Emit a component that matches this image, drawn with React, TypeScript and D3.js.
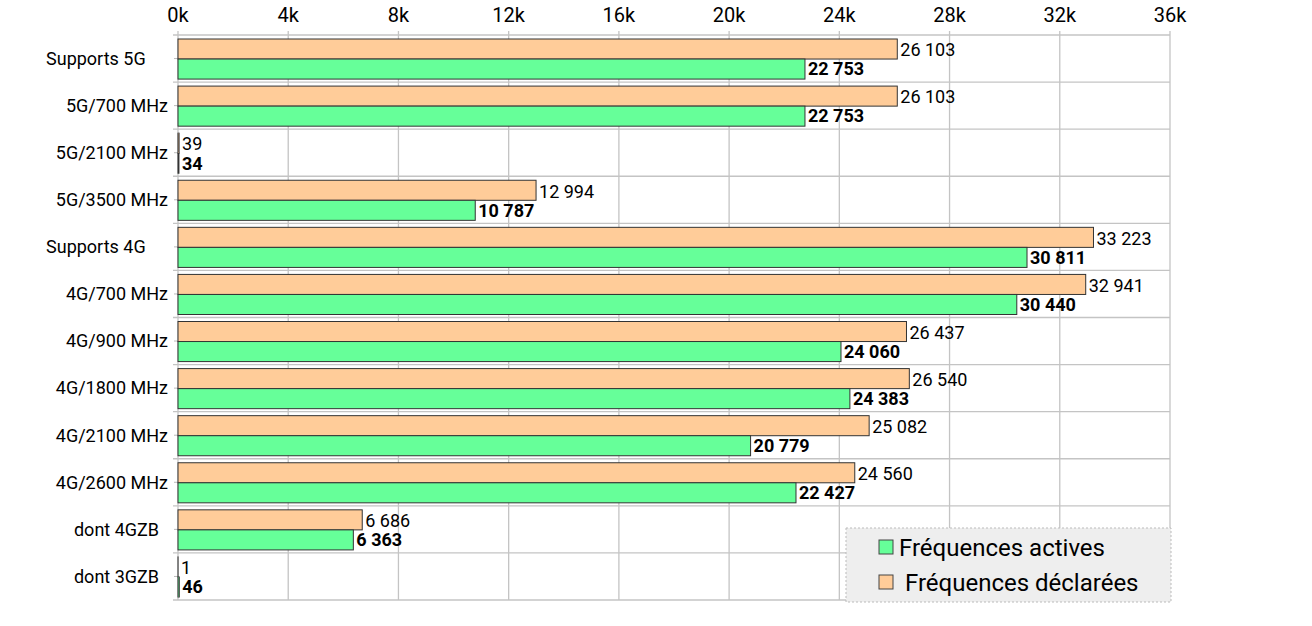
import { useEffect, useRef } from 'react'
import * as d3 from 'd3'

// categories top to bottom (trailing spaces kept as in the source labels)
const categories = [
  'Supports 5G\u00a0\u00a0\u00a0\u00a0\u00a0',
  '5G/700 MHz',
  '5G/2100 MHz',
  '5G/3500 MHz',
  'Supports 4G\u00a0\u00a0\u00a0\u00a0\u00a0',
  '4G/700 MHz',
  '4G/900 MHz',
  '4G/1800 MHz',
  '4G/2100 MHz',
  '4G/2600 MHz',
  'dont 4GZB\u00a0\u00a0',
  'dont 3GZB\u00a0\u00a0',
]

const declared = [26103, 26103, 39, 12994, 33223, 32941, 26437, 26540, 25082, 24560, 6686, 1]
const active = [22753, 22753, 34, 10787, 30811, 30440, 24060, 24383, 20779, 22427, 6363, 46]

const xTicks = [0, 4000, 8000, 12000, 16000, 20000, 24000, 28000, 32000, 36000]

const seriesNames = ['Fréquences actives', 'Fréquences déclarées']
const colors = { active: '#66ff99', declared: '#ffcc99' }

const W = 1312
const H = 626
const FONT = 'Roboto, "Noto Sans", sans-serif'

export default function App() {
  const svgRef = useRef<SVGSVGElement>(null)

  useEffect(() => {
    if (!svgRef.current) return
    const svg = d3.select(svgRef.current)
    svg.selectAll('*').remove()

    const left = 178
    const right = 1170
    const top = 35
    const bottom = 600

    const x = d3.scaleLinear().domain([0, 36000]).range([left, right])
    const y = d3.scaleBand<number>()
      .domain(d3.range(categories.length))
      .range([top, bottom])
      .paddingInner(0)
      .paddingOuter(0)
    const bw = y.bandwidth()
    const inner = d3.scaleBand<string>()
      .domain(['declared', 'active'])
      .range([4, bw - 3])
      .padding(0)
    const ib = inner.bandwidth()

    const fmt = d3.formatLocale({ decimal: ',', thousands: ' ', grouping: [3], currency: ['', '€'] }).format(',d')

    const g = svg.append('g')

    // vertical grid
    g.selectAll('.vgrid')
      .data(xTicks)
      .join('line')
      .attr('x1', d => x(d))
      .attr('x2', d => x(d))
      .attr('y1', top - 4)
      .attr('y2', bottom)
      .attr('stroke', '#c4c4c4')
      .attr('stroke-width', 1.3)

    // horizontal grid at band boundaries
    const bounds = d3.range(categories.length + 1).map(i => top + i * bw)
    g.selectAll('.hgrid')
      .data(bounds)
      .join('line')
      .attr('x1', left - 5)
      .attr('x2', right)
      .attr('y1', d => d)
      .attr('y2', d => d)
      .attr('stroke', '#c4c4c4')
      .attr('stroke-width', 1.3)

    // small center ticks
    g.selectAll('.ctick')
      .data(d3.range(categories.length))
      .join('line')
      .attr('x1', left - 4)
      .attr('x2', left)
      .attr('y1', d => (y(d) as number) + bw / 2)
      .attr('y2', d => (y(d) as number) + bw / 2)
      .attr('stroke', '#bbb')
      .attr('stroke-width', 1)

    // top tick labels
    g.selectAll('.xlab')
      .data(xTicks)
      .join('text')
      .attr('x', d => x(d))
      .attr('y', 22)
      .attr('text-anchor', 'middle')
      .style('font-family', FONT)
      .style('font-size', '20px')
      .style('fill', '#000')
      .text(d => `${d / 1000}k`)

    // category labels
    g.selectAll('.ylab')
      .data(categories)
      .join('text')
      .attr('x', left - 10)
      .attr('y', (d, i) => (y(i) as number) + bw / 2)
      .attr('dy', '0.35em')
      .attr('text-anchor', 'end')
      .style('font-family', FONT)
      .style('font-size', '18px')
      .style('fill', '#000')
      .text(d => d)

    const rows = categories.map((c, i) => ({ i, declared: declared[i], active: active[i] }))

    // declared bars
    g.selectAll('.bar-d')
      .data(rows)
      .join('rect')
      .attr('x', x(0))
      .attr('y', d => (y(d.i) as number) + (inner('declared') as number))
      .attr('width', d => x(d.declared) - x(0))
      .attr('height', ib)
      .attr('fill', colors.declared)
      .attr('stroke', '#333')
      .attr('stroke-width', 1)

    // active bars
    g.selectAll('.bar-a')
      .data(rows)
      .join('rect')
      .attr('x', x(0))
      .attr('y', d => (y(d.i) as number) + (inner('active') as number))
      .attr('width', d => x(d.active) - x(0))
      .attr('height', ib)
      .attr('fill', colors.active)
      .attr('stroke', '#333')
      .attr('stroke-width', 1)

    // value labels
    g.selectAll('.val-d')
      .data(rows)
      .join('text')
      .attr('x', d => x(d.declared) + 3)
      .attr('y', d => (y(d.i) as number) + (inner('declared') as number) + ib / 2 + 1)
      .attr('dy', '0.35em')
      .style('font-family', FONT)
      .style('font-size', '18px')
      .style('fill', '#000')
      .text(d => fmt(d.declared))

    g.selectAll('.val-a')
      .data(rows)
      .join('text')
      .attr('x', d => x(d.active) + 3)
      .attr('y', d => (y(d.i) as number) + (inner('active') as number) + ib / 2)
      .attr('dy', '0.35em')
      .style('font-family', FONT)
      .style('font-size', '18px')
      .style('font-weight', 'bold')
      .style('fill', '#000')
      .text(d => fmt(d.active))

    // legend
    const lg = svg.append('g').attr('transform', 'translate(846,528)')
    lg.append('rect')
      .attr('width', 325)
      .attr('height', 74)
      .attr('fill', '#eeeeee')
      .attr('stroke', '#bbb')
      .attr('stroke-dasharray', '2,2')
    const items = [
      { name: seriesNames[0], color: colors.active },
      { name: '\u00a0' + seriesNames[1], color: colors.declared },
    ]
    const li = lg.selectAll('.li')
      .data(items)
      .join('g')
      .attr('transform', (d, i) => `translate(33,${12 + i * 35})`)
    li.append('rect')
      .attr('width', 14)
      .attr('height', 14)
      .attr('fill', d => d.color)
      .attr('stroke', '#444')
    li.append('text')
      .attr('x', 20)
      .attr('y', 8)
      .attr('dy', '0.35em')
      .style('font-family', FONT)
      .style('font-size', '24px')
      .style('fill', '#000')
      .text(d => d.name)
  }, [])

  return (
    <svg
      ref={svgRef}
      width={W}
      height={H}
      style={{ position: 'absolute', left: 0, top: 0, background: '#fff' }}
    />
  )
}
